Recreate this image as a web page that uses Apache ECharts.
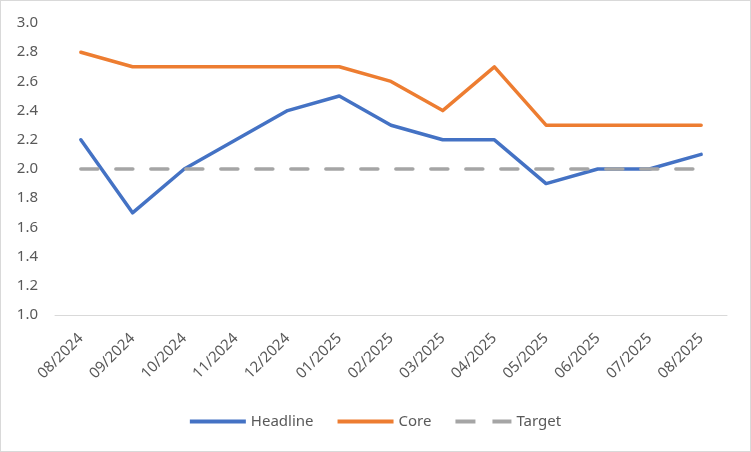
<!DOCTYPE html>
<html><head><meta charset="utf-8">
<script src="https://cdn.jsdelivr.net/npm/echarts@6/dist/echarts.min.js"></script>
<style>html,body{margin:0;padding:0;background:#fff;}#c{position:absolute;left:0;top:0;width:749px;height:450px;border:1px solid #D9D9D9;}</style>
</head><body><div id="c"></div>
<script>
const categories = ['08/2024','09/2024','10/2024','11/2024','12/2024','01/2025','02/2025','03/2025','04/2025','05/2025','06/2025','07/2025','08/2025'];
const headline = [2.2,1.7,2.0,2.2,2.4,2.5,2.3,2.2,2.2,1.9,2.0,2.0,2.1];
const core = [2.8,2.7,2.7,2.7,2.7,2.7,2.6,2.4,2.7,2.3,2.3,2.3,2.3];
const target = [2.0,2.0,2.0,2.0,2.0,2.0,2.0,2.0,2.0,2.0,2.0,2.0,2.0];
const chart = echarts.init(document.getElementById('c'));
const font = 'Noto Sans';
const solidIcon = 'path://M0,0H56V4H0Z';
const dashIcon = 'path://M0,0H20V4H0Z M37,0H56V4H37Z';
chart.setOption({
  animation:false,
  grid:{left:54,right:23,top:22,bottom:136,containLabel:false},
  xAxis:{type:'category',data:categories,boundaryGap:true,
    axisLine:{lineStyle:{color:'#D9D9D9',width:1}},axisTick:{show:false},
    axisLabel:{rotate:45,color:'#595959',fontSize:15,fontFamily:font,margin:21,interval:0}},
  yAxis:{type:'value',min:1.0,max:3.0,interval:0.2,
    splitLine:{show:false},axisLine:{show:false},axisTick:{show:false},
    axisLabel:{color:'#595959',fontSize:15,fontFamily:font,margin:17,formatter:v=>v.toFixed(1)}},
  legend:{top:408,left:'center',itemWidth:56,itemHeight:4,itemGap:24,symbolKeepAspect:false,
    textStyle:{color:'#595959',fontSize:15,fontFamily:font},
    data:[{name:'Headline',icon:solidIcon},{name:'Core',icon:solidIcon},{name:'Target',icon:dashIcon}]},
  series:[
    {name:'Headline',type:'line',data:headline,symbol:'none',lineStyle:{color:'#4472C4',width:3.5,cap:'round',join:'round'},itemStyle:{color:'#4472C4'}},
    {name:'Core',type:'line',data:core,symbol:'none',lineStyle:{color:'#ED7D31',width:3.5,cap:'round',join:'round'},itemStyle:{color:'#ED7D31'}},
    {name:'Target',type:'line',data:target,symbol:'none',lineStyle:{color:'#A5A5A5',width:3.5,type:[17,18],cap:'round'},itemStyle:{color:'#A5A5A5'}}
  ]
});
</script></body></html>
